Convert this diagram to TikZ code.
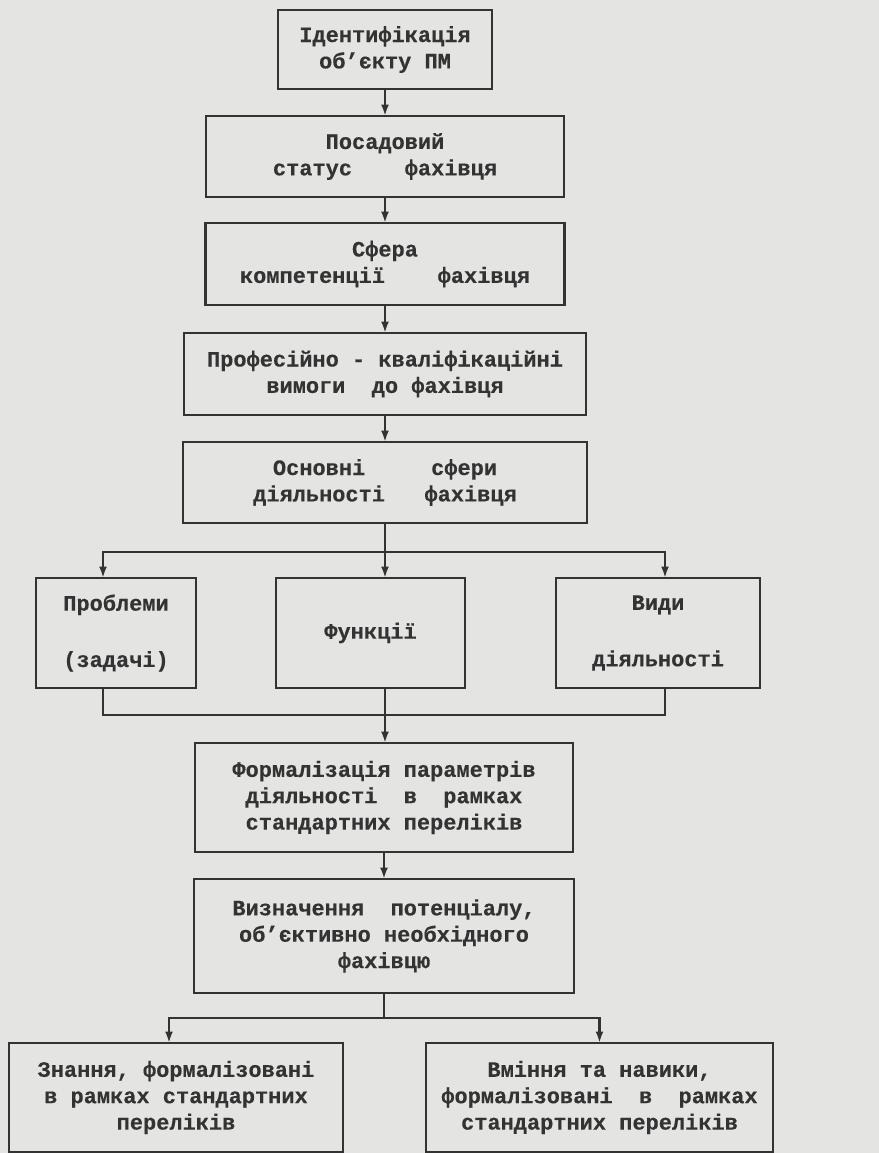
\documentclass[tikz,border=0pt]{standalone}
\usepackage{fontspec}
\setmainfont[FakeBold=0.3]{Liberation Mono}
\usetikzlibrary{arrows.meta, positioning}

\definecolor{paper}{HTML}{E4E4E2}
\definecolor{ink}{HTML}{333333}

\begin{document}
\begin{tikzpicture}[
    node distance=0.54cm,
    box/.style={draw=ink, rectangle, line width=1.5pt, outer sep=0pt, minimum height=1.62cm, align=center, inner sep=0pt, text=ink, font=\fontsize{12.5}{15}\selectfont\bfseries},
    sidebox/.style={box, minimum height=2.2cm},
    arrow/.style={-{Latex[length=2.3mm,width=1.6mm]}, draw=ink, line width=1.5pt},
    line/.style={draw=ink, line width=1.5pt}
]
\fill[paper] (0,0) rectangle (17.58,-23.06);
\useasboundingbox (0,0) rectangle (17.58,-23.06);

% main column
\node[box, minimum width=4.28cm, minimum height=1.58cm] (ident) at (7.70,-0.99) {Ідентифікація\\об’єкту ПМ};
\node[box, minimum width=7.16cm, below=of ident] (posada) {Посадовий\\статус\ \ \ \ фахівця};
\node[box, minimum width=7.18cm, minimum height=1.64cm, below=0.52cm of posada] (sfera) {Сфера\\компетенції\ \ \ \ фахівця};
\node[box, minimum width=8.04cm, minimum height=1.64cm, below=0.56cm of sfera] (prof) {Професійно - кваліфікаційні\\вимоги\ \ до фахівця};
\node[box, minimum width=8.08cm, below=of prof] (osnovni) {Основні\ \ \ \ \ сфери\\діяльності\ \ \ фахівця};

% three branches
\node[sidebox, minimum width=3.78cm, below=1.1cm of osnovni, xshift=-0.29cm] (funkcii) {Функції};
\node[sidebox, minimum width=3.2cm, left=1.6cm of funkcii] (problemy) {Проблеми\\[0.6cm](задачі)};
\node[sidebox, minimum width=4.08cm, right=1.82cm of funkcii] (vydy) {Види\\[0.6cm]діяльності};

\node[box, minimum width=7.56cm, minimum height=2.18cm, below=1.1cm of funkcii, xshift=0.27cm] (formal) {Формалізація параметрів\\діяльності\ \ в\ \ рамках\\стандартних переліків};
\node[box, minimum width=7.6cm, minimum height=2.28cm, below=of formal] (vyznach) {Визначення\ \ потенціалу,\\об’єктивно необхідного\\фахівцю};

% two results
\node[box, minimum width=6.68cm, minimum height=2.18cm, below=1.0cm of vyznach, xshift=-4.16cm] (znannia) {Знання, формалізовані\\в рамках стандартних\\переліків};
\node[box, minimum width=6.94cm, minimum height=2.18cm, below=1.0cm of vyznach, xshift=4.31cm] (vminnia) {Вміння та навики,\\формалізовані\ \ в\ \ рамках\\стандартних переліків};

\foreach \from/\to in {ident/posada, posada/sfera, sfera/prof, prof/osnovni, formal/vyznach}
    \draw[arrow] (\from) -- (\to);

\coordinate[below=0.58cm of osnovni] (fork1);
\path (fork1) ++(0,-3.26) coordinate (join1);
\coordinate[below=0.5cm of vyznach] (fork2);

\draw[line] (osnovni) -- (fork1);
\draw[arrow] (fork1) -| ([xshift=-0.26cm]problemy.north);
\draw[arrow] (fork1) -| ([xshift=0.14cm]vydy.north);
\draw[arrow] (fork1) -- (fork1 |- funkcii.north);

\draw[line] ([xshift=-0.26cm]problemy.south) |- (join1) -| ([xshift=0.14cm]vydy.south);
\draw[line] (funkcii.south -| join1) -- (join1);
\draw[arrow] (join1) -- (join1 |- formal.north);

\draw[line] (vyznach) -- (fork2);
\draw[arrow] (fork2) -| ([xshift=-0.14cm]znannia.north);
\draw[arrow] (fork2) -| (vminnia.north);

\end{tikzpicture}
\end{document}
